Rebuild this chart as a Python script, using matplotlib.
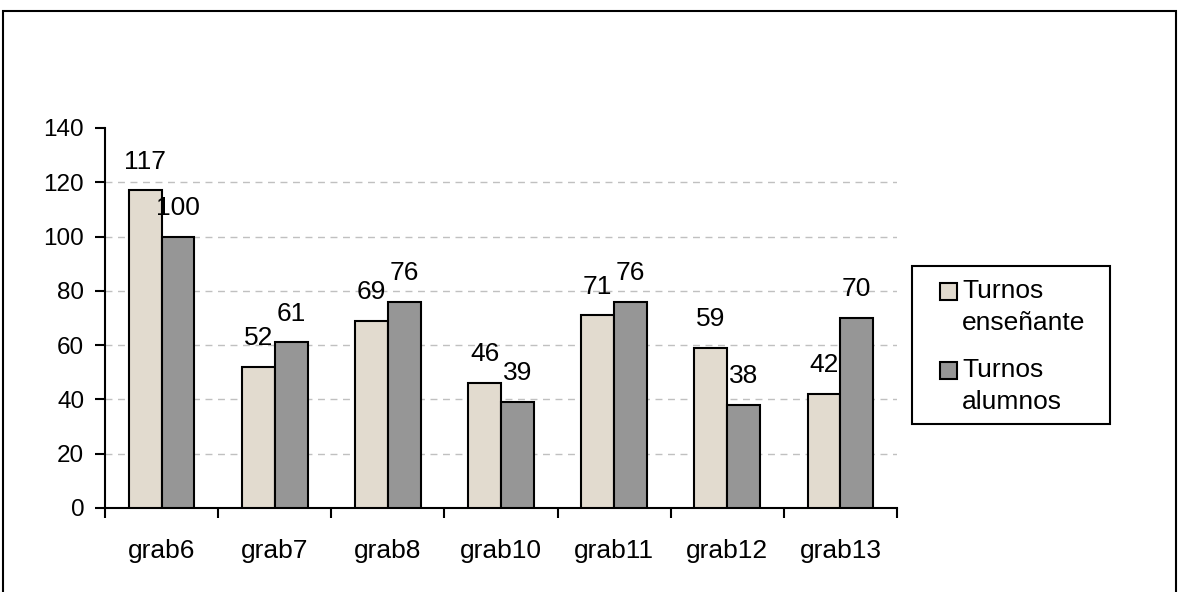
import matplotlib.pyplot as plt
from matplotlib.patches import Rectangle
import numpy as np

plt.rcParams['font.family'] = ['Liberation Sans', 'DejaVu Sans']

grabaciones = ['grab6', 'grab7', 'grab8', 'grab10', 'grab11', 'grab12', 'grab13']
turnos_ens = [117, 52, 69, 46, 71, 59, 42]
turnos_alu = [100, 61, 76, 39, 76, 38, 70]
etiquetas = ['Turnos\nenseñante', 'Turnos\nalumnos']
colores = ['#e2dbcf', '#969696']

W, H = 1181, 592
fig = plt.figure(figsize=(W / 100, H / 100), dpi=100)
ax = fig.add_axes([0.0889, 0.1419, 0.6706, 0.6419])

def px(x, y):
    # pixeles (desde arriba) -> coordenadas de figura
    return x / W, 1 - y / H

# marco exterior
fig.patches.append(Rectangle((3/W, -0.05), 1173/W, 1.05 - 11/H,
                             transform=fig.transFigure, fill=False,
                             edgecolor='black', linewidth=1.5))

x = np.arange(len(grabaciones))
w = 0.29
b1 = ax.bar(x - w/2, turnos_ens, w, color=colores[0], edgecolor='black',
            linewidth=1.5, zorder=3)
b2 = ax.bar(x + w/2, turnos_alu, w, color=colores[1], edgecolor='black',
            linewidth=1.5, zorder=3)

for barras in (b1, b2):
    for r in barras:
        ax.annotate(str(int(r.get_height())),
                    (r.get_x() + r.get_width()/2, r.get_height()),
                    xytext=(0, 12), textcoords='offset points',
                    ha='center', va='bottom', fontsize=19)

for y in range(20, 140, 20):
    ax.axhline(y, color='#c0c0c0', linestyle=(0, (5, 4)), linewidth=1, zorder=1)

ax.set_xlim(-0.5, len(grabaciones) - 0.5)
ax.set_ylim(0, 140)
ax.set_yticks(range(0, 141, 20))
ax.set_xticks(x)
ax.set_xticklabels(grabaciones)
ax.set_xticks(np.arange(-0.5, len(grabaciones)), minor=True)
ax.tick_params(axis='x', which='major', length=0, pad=22, labelsize=19)
ax.tick_params(axis='x', which='minor', length=7, width=1.5, direction='out')
ax.tick_params(axis='y', length=7, width=1.5, labelsize=17.5, pad=8)
for s in ('top', 'right'):
    ax.spines[s].set_visible(False)
for s in ('left', 'bottom'):
    ax.spines[s].set_linewidth(1.5)

# leyenda dibujada a mano (marcador alineado con la primera linea)
x0, y0 = px(912, 424)
x1, y1 = px(1110, 266)
fig.patches.append(Rectangle((x0, y0), x1 - x0, y1 - y0, transform=fig.transFigure,
                             fill=False, edgecolor='black', linewidth=1.5))
for i, (lab, col) in enumerate(zip(etiquetas, colores)):
    top = 283 + 79 * i
    mx, my = px(940, top + 17)
    fig.patches.append(Rectangle((mx, my), 17/W, 17/H, transform=fig.transFigure,
                                 facecolor=col, edgecolor='black', linewidth=1.5))
    tx, ty = px(962, top - 4)
    fig.text(tx, ty, lab, ha='left', va='top', fontsize=19, linespacing=1.4)

fig.savefig('out.png', dpi=100)
